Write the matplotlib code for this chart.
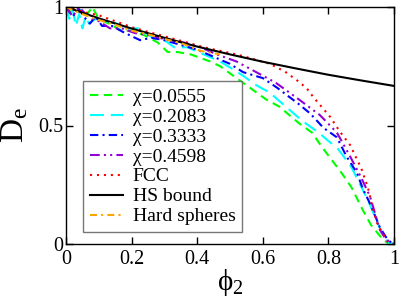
import matplotlib
matplotlib.use("Agg")
import matplotlib.pyplot as plt

plt.rcParams['font.family'] = ['Liberation Serif', 'DejaVu Serif']
plt.rcParams['mathtext.fontset'] = 'custom'
plt.rcParams['mathtext.rm'] = 'Liberation Serif'
plt.rcParams['mathtext.it'] = 'Liberation Serif:italic'
plt.rcParams['lines.scale_dashes'] = False

# ---- data ----
phi_g = [0, 0.02, 0.04, 0.06, 0.08, 0.10, 0.13, 0.17, 0.20, 0.24, 0.28, 0.31, 0.34,
         0.38, 0.41, 0.44, 0.47, 0.50, 0.52, 0.56, 0.61, 0.65, 0.71, 0.75, 0.78, 0.81,
         0.84, 0.87, 0.905, 0.93, 0.95, 0.967, 0.98, 1.0]
de_g = [1.0, 0.97, 0.99, 0.96, 1.0, 0.95, 0.93, 0.90, 0.90, 0.88, 0.85, 0.81, 0.81,
        0.80, 0.785, 0.77, 0.75, 0.72, 0.70, 0.66, 0.61, 0.58, 0.51, 0.47, 0.41, 0.355,
        0.30, 0.24, 0.143, 0.08, 0.046, 0.017, 0.005, 0.0]

phi_c = [0, 0.01, 0.02, 0.03, 0.04, 0.05, 0.06, 0.07, 0.09, 0.12, 0.155, 0.19, 0.22,
         0.265, 0.30, 0.33, 0.37, 0.42, 0.47, 0.50, 0.54, 0.58, 0.62, 0.67, 0.72, 0.77,
         0.83, 0.87, 0.92, 0.95, 0.967, 0.98, 1.0]
de_c = [1.0, 0.95, 0.99, 0.92, 0.97, 0.91, 0.96, 0.93, 0.95, 0.94, 0.93, 0.91, 0.91,
        0.87, 0.86, 0.83, 0.83, 0.80, 0.77, 0.745, 0.71, 0.67, 0.64, 0.58, 0.52, 0.47,
        0.40, 0.325, 0.186, 0.09, 0.03, 0.008, 0.0]

phi_b = [0, 0.02, 0.04, 0.06, 0.073, 0.09, 0.11, 0.14, 0.18, 0.226, 0.26, 0.30, 0.35,
         0.40, 0.45, 0.50, 0.54, 0.60, 0.643, 0.71, 0.745, 0.785, 0.826, 0.855, 0.887,
         0.906, 0.927, 0.957, 0.975, 0.988, 1.0]
de_b = [1.0, 0.96, 0.99, 0.95, 0.93, 0.96, 0.92, 0.92, 0.89, 0.86, 0.87, 0.86, 0.84,
        0.82, 0.79, 0.76, 0.725, 0.70, 0.66, 0.59, 0.55, 0.49, 0.45, 0.37, 0.30,
        0.23, 0.17, 0.07, 0.03, 0.01, 0.0]

phi_p = [0, 0.02, 0.04, 0.06, 0.08, 0.10, 0.134, 0.17, 0.21, 0.26, 0.31, 0.36, 0.41,
         0.46, 0.52, 0.58, 0.64, 0.71, 0.774, 0.826, 0.866, 0.90, 0.927, 0.957, 0.975, 1.0]
de_p = [1.0, 0.96, 1.0, 0.97, 0.95, 0.94, 0.91, 0.91, 0.89, 0.88, 0.86, 0.85, 0.83,
        0.80, 0.77, 0.725, 0.68, 0.61, 0.544, 0.47, 0.37, 0.28, 0.20, 0.06, 0.02, 0.0]

phi_fcc = [0, 0.05, 0.1, 0.15, 0.2, 0.25, 0.317, 0.37, 0.42, 0.47, 0.52, 0.56, 0.597,
           0.622, 0.668, 0.703, 0.734, 0.754, 0.77, 0.805, 0.835, 0.866, 0.90, 0.92,
           0.932, 0.948, 0.963, 0.98, 1.0]
de_fcc = [1.0, 0.98, 0.965, 0.94, 0.915, 0.895, 0.87, 0.85, 0.83, 0.815, 0.80, 0.785,
          0.77, 0.76, 0.727, 0.692, 0.657, 0.62, 0.594, 0.537, 0.474, 0.418, 0.32, 0.24,
          0.17, 0.09, 0.05, 0.01, 0.0]

phi_hsb = [0, 0.1, 0.2, 0.3, 0.4, 0.5, 0.6, 0.7, 0.8, 0.9, 1.0]
de_hsb = [1.0, 0.952, 0.909, 0.870, 0.833, 0.800, 0.769, 0.741, 0.714, 0.690, 0.667]

phi_hs = [0, 0.05, 0.1, 0.15, 0.2, 0.25, 0.3, 0.35, 0.41, 0.47]
de_hs = [1.0, 0.97, 0.945, 0.925, 0.90, 0.885, 0.865, 0.848, 0.815, 0.80]

labels = ["χ=0.0555", "χ=0.2083", "χ=0.3333", "χ=0.4598",
          "FCC", "HS bound", "Hard spheres"]

fig = plt.figure(figsize=(3.99, 3.0), dpi=100)
ax = fig.add_axes([66/399, 1-244/300, 328/399, 237/300])

lw = 1.5
ax.plot(phi_g, de_g, color="#00ff00", lw=lw, dashes=(6, 4), label=labels[0])
ax.plot(phi_c, de_c, color="#00ffff", lw=lw, dashes=(10, 5), label=labels[1])
ax.plot(phi_b, de_b, color="#0000ff", lw=lw, dashes=(6, 3, 1.5, 3), label=labels[2])
ax.plot(phi_p, de_p, color="#9400d3", lw=lw, dashes=(7, 3, 1.5, 3, 1.5, 3), label=labels[3])
ax.plot(phi_fcc, de_fcc, color="#ff0000", lw=lw, dashes=(1.5, 3.5), label=labels[4])
ax.plot(phi_hsb, de_hsb, color="black", lw=lw, label=labels[5])
ax.plot(phi_hs, de_hs, color="#ffa500", lw=lw, dashes=(5, 3, 1.5, 3), label=labels[6])

ax.set_xlim(0, 1)
ax.set_ylim(0, 1)
ax.set_xticks([0, 0.2, 0.4, 0.6, 0.8, 1])
ax.set_xticklabels(["0", "0.2", "0.4", "0.6", "0.8", "1"])
ax.set_yticks([0, 0.5, 1])
ax.set_yticklabels(["0", "0.5", "1"])
ax.tick_params(direction="in", length=5, width=1, top=True, right=True,
               labelsize=14.5, pad=2)
ax.tick_params(axis="x", pad=4)
for s in ax.spines.values():
    s.set_linewidth(1)

ax.set_xlabel(r"$\mathregular{\phi_2}$", fontsize=21, labelpad=-1)
ax.set_ylabel(r"$\mathregular{D_e}$", fontsize=24, labelpad=6)

leg = ax.legend(loc="lower left", bbox_to_anchor=(0.052, 0.05), borderaxespad=0,
                fontsize=14, handlelength=1.7, handletextpad=0.5, labelspacing=0.12,
                borderpad=0.35, frameon=True, fancybox=False)
leg.get_frame().set_edgecolor("#555555")
leg.get_frame().set_linewidth(1)

fig.savefig("out.png", dpi=100)
